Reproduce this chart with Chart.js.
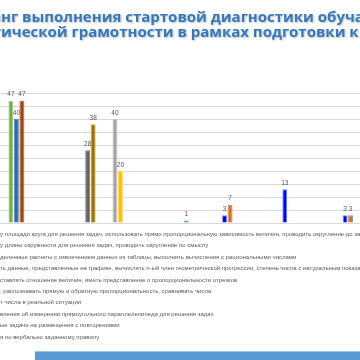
<!DOCTYPE html>
<html>
<head>
<meta charset="utf-8">
<script src="https://cdn.jsdelivr.net/npm/chart.js@4/dist/chart.umd.min.js"></script>
<style>
    html, body { margin: 0; padding: 0; background: #fff; }
    #page { position: relative; width: 360px; height: 360px; overflow: hidden; background: #fff; }
    #chartBox { position: absolute; left: -60px; top: 0; }
    .title-line {
        position: absolute; left: 1px; white-space: nowrap;
        font-family: "Open Sans", sans-serif; font-weight: bold; font-size: 15px;
        color: #3479BD; text-shadow: 1px 1px 2px rgba(0, 0, 0, 0.25);
    }
    #legend { position: absolute; left: 0; top: 229px; }
    .legend-line {
        position: relative; white-space: nowrap; height: 11.4px; line-height: 11.4px;
        font-family: "Liberation Sans", Arial, sans-serif; font-size: 6px; color: #595959;
    }
    .cut { position: absolute; right: 100%; top: 0; }
    .mark { display: inline-block; width: 5px; height: 5px; margin-right: 3px; }
    #band { position: absolute; left: 35px; top: 351px; width: 330px; height: 12px; background: #5B9BD5; border-top: 1px solid #9DC3E6; }
</style>
</head>
<body>
<div id="page">
    <div id="chartBox"><canvas id="chart" width="480" height="230"></canvas></div>
    <div id="titleBox"></div>
    <div id="legend"></div>
    <div id="band"></div>
</div>
<script>
    // Данные диаграммы
    const categories = ['1', '2', '3', '4', '5', '6', '7'];

    const seriesLabels = [
        'Использовать формулу площади круга для решения задач, использовать прямо пропорциональную зависимость величин, проводить округление до заданного разряда',
        'Использовать формулу длины окружности для решения задач, проводить округление по смыслу',
        'Выполнять определенные расчеты с извлечением данных из таблицы, выполнять вычисления с рациональными числами',
        'Анализировать данные, представленные на графике, вычислять n-ый член геометрической прогрессии, степень числа с натуральным показателем, выполнять вычисления',
        'Составлять отношение величин, иметь представление о пропорциональности отрезков',
        'Анализировать информацию в таблице, распознавать прямую и обратную пропорциональность, сравнивать числа',
        'Находить процент числа в реальной ситуации',
        'Использовать представления об измерении прямоугольного параллелепипеда для решения задач',
        'Решать комбинаторные задачи на размещения с повторениями',
        'Выполнять вычисления по вербально заданному правилу'
    ];
    // сколько символов подписи уходит за левый край
    const legendCut = [19, 19, 14, 11, 2, 34, 15, 20, 18, 19];

    const s1 = [null, null, null, null, 3, 13, 3];
    const s2 = [null, null, null, null, 7, null, 3];
    const s3 = [null, null, 40, null, null, null, null];
    const s4 = [null, null, 20, null, null, null, null];
    const s5 = [null, null, null, 1, null, null, null];
    const s6 = [47, null, null, null, null, null, null];
    const s7 = [40, null, null, null, null, null, null];
    const s8 = [47, null, null, null, null, null, null];
    const s9 = [null, 28, null, null, null, null, null];
    const s10 = [null, 38, null, null, null, null, null];
    const seriesValues = [s1, s2, s3, s4, s5, s6, s7, s8, s9, s10];

    const seriesColors = ['#0000FF', '#FF6600', '#A5A5A5', '#FFC000', '#1E9E1E',
        '#70AD47', '#2E6BA8', '#9E480E', '#636363', '#997300'];
    const seriesBorders = ['#5B9BD5', '#5B9BD5', '#BFBFBF', '#FFD966', '#57BD57',
        '#A9D18E', '#5B8FC7', '#B5652E', '#7F7F7F', '#C9A440'];

    const titleLines = [
        'Рейтинг выполнения стартовой диагностики обучающихся',
        'по математической грамотности в рамках подготовки к ОГЭ'
    ];
    const titleCut = [5, 10];

    const yTicks = { min: 0, max: 50, step: 5 };

    // подписи значений над столбцами
    const valueLabels = {
        id: 'valueLabels',
        afterDatasetsDraw(chart) {
            const ctx = chart.ctx;
            ctx.save();
            ctx.fillStyle = '#595959';
            ctx.font = '6.5px "Liberation Sans", Arial, sans-serif';
            ctx.textAlign = 'center';
            ctx.textBaseline = 'bottom';
            chart.data.datasets.forEach((ds, i) => {
                const meta = chart.getDatasetMeta(i);
                meta.data.forEach((bar, j) => {
                    const v = ds.data[j];
                    if (v === null || v === undefined) return;
                    ctx.fillText(String(v), bar.x, bar.y - 3);
                });
            });
            ctx.restore();
        }
    };

    const chart = new Chart(document.getElementById('chart'), {
        type: 'bar',
        data: {
            labels: categories,
            datasets: seriesValues.map((vals, i) => ({
                label: seriesLabels[i],
                data: vals,
                backgroundColor: seriesColors[i],
                borderColor: seriesBorders[i],
                borderWidth: 1,
                categoryPercentage: 0.912,
                barPercentage: 0.9
            }))
        },
        options: {
            responsive: false,
            animation: false,
            devicePixelRatio: 1,
            layout: { padding: { left: 38, right: 20, top: 93, bottom: 7 } },
            plugins: {
                legend: { display: false },
                title: { display: false },
                tooltip: { enabled: false }
            },
            scales: {
                x: { display: false },
                y: {
                    min: yTicks.min,
                    max: yTicks.max,
                    ticks: { stepSize: yTicks.step, display: false },
                    grid: { color: '#D9D9D9', drawTicks: false },
                    border: { display: false }
                }
            }
        },
        plugins: [valueLabels]
    });

    // заголовок (обрезан по краям, как на слайде)
    const titleBox = document.getElementById('titleBox');
    titleLines.forEach((line, i) => {
        const div = document.createElement('div');
        div.className = 'title-line';
        div.style.top = (6 + i * 15) + 'px';
        const cut = document.createElement('span');
        cut.className = 'cut';
        cut.textContent = line.slice(0, titleCut[i]);
        div.appendChild(cut);
        div.appendChild(document.createTextNode(line.slice(titleCut[i])));
        titleBox.appendChild(div);
    });

    // легенда
    const legend = document.getElementById('legend');
    chart.data.datasets.forEach((ds, i) => {
        const row = document.createElement('div');
        row.className = 'legend-line';
        const cut = document.createElement('span');
        cut.className = 'cut';
        const mark = document.createElement('span');
        mark.className = 'mark';
        mark.style.background = ds.backgroundColor;
        cut.appendChild(mark);
        cut.appendChild(document.createTextNode(ds.label.slice(0, legendCut[i])));
        row.appendChild(cut);
        row.appendChild(document.createTextNode(ds.label.slice(legendCut[i])));
        legend.appendChild(row);
    });
</script>
</body>
</html>
